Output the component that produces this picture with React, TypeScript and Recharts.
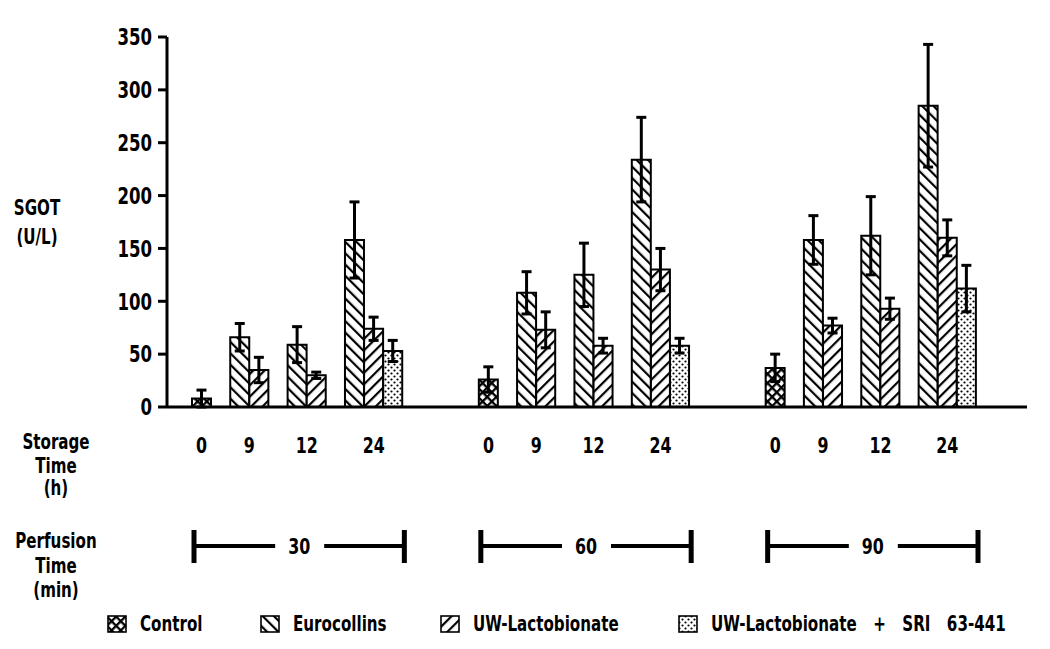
import React from 'react';
import { BarChart, Bar, XAxis, YAxis, ErrorBar, Cell, ReferenceArea, Legend } from 'recharts';

// ---------- data ----------
const perfusionTimes = ['30', '60', '90'];
const storageTimes = ['0', '9', '12', '24'];
const treatments = ['Control', 'Eurocollins', 'UW-Lactobionate', 'UW-Lactobionate + SRI 63-441'];
const yTicks = [0, 50, 100, 150, 200, 250, 300, 350];

// Control: storage 0 h, one value per perfusion time
const controlMean = [8, 26, 37];
const controlErr = [8, 12, 13];
// Eurocollins & UW-Lactobionate: storage 9, 12, 24 h, per perfusion time
const eurocollinsMean = [[66, 59, 158], [108, 125, 234], [158, 162, 285]];
const eurocollinsErr = [[13, 17, 36], [20, 30, 40], [23, 37, 58]];
const uwMean = [[35, 30, 74], [73, 58, 130], [77, 93, 160]];
const uwErr = [[12, 3, 11], [17, 7, 20], [7, 10, 17]];
// UW-Lactobionate + SRI 63-441: storage 24 h only
const uwSriMean = [53, 58, 112];
const uwSriErr = [10, 7, 22];

// ---------- table built for the library ----------
type Slot = { key: string; value: number | null; err: number | null; t: number };
type Span = { label: string; x1: string; x2: string };

const slots: Slot[] = [];
const storageSpans: Span[] = [];
const perfusionSpans: Span[] = [];
let gapCount = 0;
const addGap = () => {
  slots.push({ key: `gap${gapCount++}`, value: null, err: null, t: -1 });
};

perfusionTimes.forEach((p, g) => {
  if (g > 0) {
    addGap(); addGap(); addGap(); addGap();
  }
  const first = `${p}-${storageTimes[0]}-c`;
  slots.push({ key: first, value: controlMean[g], err: controlErr[g], t: 0 });
  storageSpans.push({ label: storageTimes[0], x1: first, x2: first });
  let last = first;
  storageTimes.slice(1).forEach((s, i) => {
    addGap();
    const e = `${p}-${s}-e`;
    const u = `${p}-${s}-u`;
    slots.push({ key: e, value: eurocollinsMean[g][i], err: eurocollinsErr[g][i], t: 1 });
    slots.push({ key: u, value: uwMean[g][i], err: uwErr[g][i], t: 2 });
    last = u;
    if (i === storageTimes.length - 2) {
      const r = `${p}-${s}-r`;
      slots.push({ key: r, value: uwSriMean[g], err: uwSriErr[g], t: 3 });
      last = r;
    }
    storageSpans.push({ label: s, x1: e, x2: last });
  });
  perfusionSpans.push({ label: p, x1: first, x2: last });
});

// ---------- styles ----------
const FONT = "'DejaVu Sans Condensed', 'DejaVu Sans', sans-serif";
const K = 0.8; // horizontal squeeze to mimic a condensed typeface
const PATTERN_IDS = ['pat-control', 'pat-euro', 'pat-uw', 'pat-sri'];
const LEGEND_LEFT = [107, 260, 440, 678];

function squeeze(origin: string) {
  return { transform: `scaleX(${K})`, transformBox: 'fill-box', transformOrigin: origin } as any;
}

function T(props: any) {
  const { anchor = 'middle', size = 21, children, ...rest } = props;
  const origin = anchor === 'end' ? 'right center' : anchor === 'start' ? 'left center' : 'center';
  return (
    <text
      {...rest}
      textAnchor={anchor}
      fontSize={size}
      fontFamily={FONT}
      fontWeight={700}
      fill="#000"
      style={squeeze(origin)}
    >
      {children}
    </text>
  );
}

function Patterns() {
  return (
    <svg width={0} height={0} style={{ position: 'absolute', left: 0, top: 0 }}>
      <defs>
        <pattern id="pat-control" patternUnits="userSpaceOnUse" width={6.5} height={6.5} patternTransform="rotate(45)">
          <rect width={6.5} height={6.5} fill="#fff" />
          <rect x={0} y={0} width={2.3} height={6.5} fill="#000" />
          <rect x={0} y={0} width={6.5} height={2.3} fill="#000" />
        </pattern>
        <pattern id="pat-euro" patternUnits="userSpaceOnUse" width={8} height={8} patternTransform="rotate(-45)">
          <rect width={8} height={8} fill="#fff" />
          <rect x={0} y={0} width={2.2} height={8} fill="#000" />
        </pattern>
        <pattern id="pat-uw" patternUnits="userSpaceOnUse" width={8} height={8} patternTransform="rotate(45)">
          <rect width={8} height={8} fill="#fff" />
          <rect x={0} y={0} width={2.2} height={8} fill="#000" />
        </pattern>
        <pattern id="pat-sri" patternUnits="userSpaceOnUse" width={6} height={6}>
          <rect width={6} height={6} fill="#fff" />
          <circle cx={1.5} cy={1.5} r={1.1} fill="#000" />
          <circle cx={4.5} cy={4.5} r={1.1} fill="#000" />
        </pattern>
      </defs>
    </svg>
  );
}

function storageShape(label: string) {
  return (p: any) => {
    const cx = p.x + p.width / 2;
    const base = p.y + p.height;
    return (
      <T x={cx} y={base + 46} size={22}>
        {label}
      </T>
    );
  };
}

function perfusionShape(label: string) {
  return (p: any) => {
    const x0 = p.x + 2;
    const x1 = p.x + p.width + 2;
    const cx = (x0 + x1) / 2;
    const base = p.y + p.height;
    const ly = base + 139;
    return (
      <g>
        <line x1={x0} y1={base + 123} x2={x0} y2={base + 156} stroke="#000" strokeWidth={5} />
        <line x1={x1} y1={base + 123} x2={x1} y2={base + 156} stroke="#000" strokeWidth={5} />
        <line x1={x0} y1={ly} x2={cx - 24} y2={ly} stroke="#000" strokeWidth={4} />
        <line x1={cx + 25} y1={ly} x2={x1} y2={ly} stroke="#000" strokeWidth={4} />
        <T x={cx} y={ly + 8} size={22}>
          {label}
        </T>
      </g>
    );
  };
}

function XLeftLabels(props: any) {
  const vb = props.viewBox || { x: 167, y: 407 };
  const cx = vb.x - 111;
  const lines: [string, number][] = [
    ['Storage', 42], ['Time', 66], ['(h)', 88],
    ['Perfusion', 141], ['Time', 166], ['(min)', 190],
  ];
  return (
    <g>
      {lines.map(([t, dy], i) => (
        <T key={i} x={cx} y={vb.y + dy} size={21}>
          {t}
        </T>
      ))}
    </g>
  );
}

function YLabel(props: any) {
  const vb = props.viewBox || { x: 0, y: 37 };
  return (
    <g>
      <T x={vb.x + 37} y={vb.y + 178} size={21}>SGOT</T>
      <T x={vb.x + 37} y={vb.y + 207} size={21}>(U/L)</T>
    </g>
  );
}

function YTick(props: any) {
  return (
    <T x={props.x} y={props.y} dy="0.36em" anchor="end" size={23}>
      {props.payload.value}
    </T>
  );
}

function LegendContent() {
  return (
    <div style={{ position: 'relative', width: 1050, height: 24 }}>
      {treatments.map((t, i) => (
        <div
          key={t}
          style={{
            position: 'absolute',
            left: LEGEND_LEFT[i],
            top: 0,
            display: 'flex',
            alignItems: 'center',
            height: 24,
            whiteSpace: 'nowrap',
          }}
        >
          <svg width={20} height={18} style={{ marginRight: 13, flex: 'none' }}>
            <rect x={1} y={1} width={18} height={16} fill={`url(#${PATTERN_IDS[i]})`} stroke="#000" strokeWidth={1.6} />
          </svg>
          <span
            style={{
              display: 'inline-block',
              fontFamily: FONT,
              fontWeight: 700,
              fontSize: 21,
              color: '#000',
              wordSpacing: 14,
              transform: `scaleX(${K})`,
              transformOrigin: 'left center',
            }}
          >
            {t}
          </span>
        </div>
      ))}
    </div>
  );
}

export default function App() {
  return (
    <div style={{ position: 'absolute', left: 0, top: 0, width: 1050, height: 649, background: '#fff' }}>
      <Patterns />
      <BarChart
        width={1050}
        height={649}
        data={slots}
        margin={{ top: 37, right: 23, left: 0, bottom: 212 }}
        barCategoryGap={0}
        barGap={0}
      >
        <XAxis
          dataKey="key"
          type="category"
          tick={false}
          tickLine={false}
          axisLine={{ stroke: '#000', strokeWidth: 3 }}
          padding={{ left: 25, right: 51 }}
          height={30}
          interval={0}
          label={{ content: XLeftLabels }}
        />
        <YAxis
          type="number"
          domain={[0, 350]}
          ticks={yTicks}
          interval={0}
          width={167}
          axisLine={{ stroke: '#000', strokeWidth: 3 }}
          tickLine={{ stroke: '#000', strokeWidth: 3 }}
          tickSize={9}
          tickMargin={6}
          tick={YTick}
          label={{ content: YLabel }}
        />
        {storageSpans.map((s, i) => (
          <ReferenceArea key={`st${i}`} x1={s.x1} x2={s.x2} ifOverflow="visible" shape={storageShape(s.label)} />
        ))}
        {perfusionSpans.map((s, i) => (
          <ReferenceArea key={`pf${i}`} x1={s.x1} x2={s.x2} ifOverflow="visible" shape={perfusionShape(s.label)} />
        ))}
        <Bar dataKey="value" stroke="#000" strokeWidth={2} isAnimationActive={false}>
          {slots.map((s) => (
            <Cell key={s.key} fill={s.t >= 0 ? `url(#${PATTERN_IDS[s.t]})` : 'none'} />
          ))}
          <ErrorBar dataKey="err" width={5} strokeWidth={3} stroke="#000" direction="y" isAnimationActive={false} />
        </Bar>
        <Legend
          content={LegendContent}
          layout="horizontal"
          verticalAlign="middle"
          align="center"
          wrapperStyle={{ top: 612, left: 0, width: 1050 }}
        />
      </BarChart>
    </div>
  );
}
